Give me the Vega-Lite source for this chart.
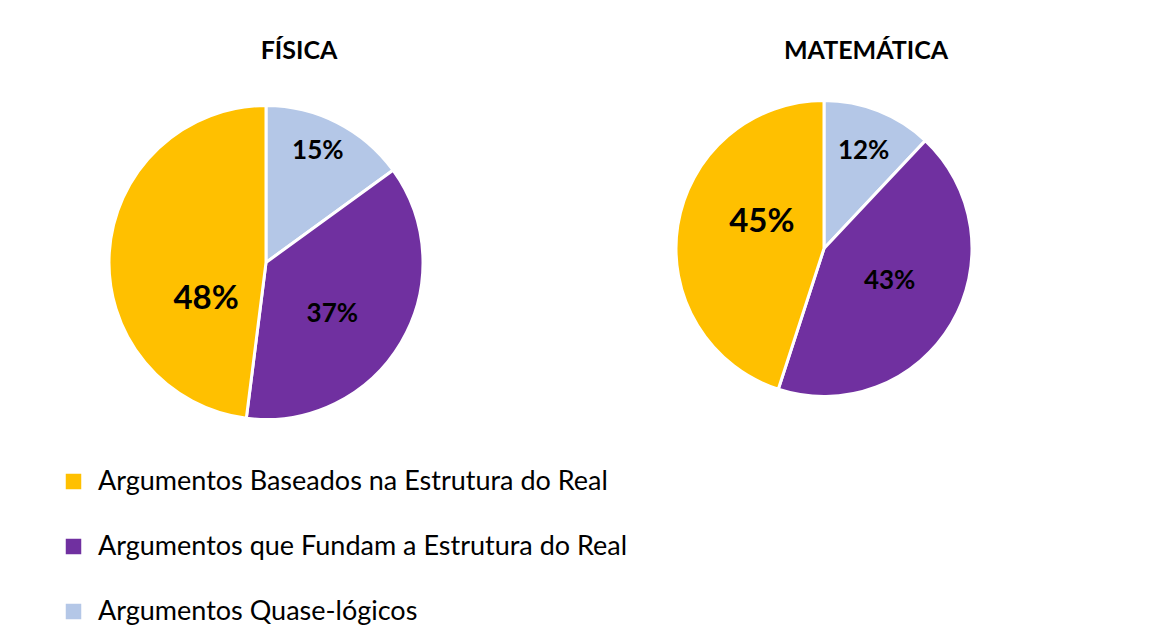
{
  "$schema": "https://vega.github.io/schema/vega-lite/v6.json",
  "padding": {"left": 20, "top": 39, "right": 0, "bottom": 0},
  "background": "white",
  "config": {"view": {"stroke": null}, "font": "Lato"},
  "datasets": {
    "pizza": [
      {"disciplina": "FÍSICA", "categoria": "Argumentos Quase-lógicos", "valor": 0.15, "ordem": 1},
      {"disciplina": "FÍSICA", "categoria": "Argumentos que Fundam a Estrutura do Real", "valor": 0.37, "ordem": 2},
      {"disciplina": "FÍSICA", "categoria": "Argumentos Baseados na Estrutura do Real", "valor": 0.48, "ordem": 3},
      {"disciplina": "MATEMÁTICA", "categoria": "Argumentos Quase-lógicos", "valor": 0.12, "ordem": 1},
      {"disciplina": "MATEMÁTICA", "categoria": "Argumentos que Fundam a Estrutura do Real", "valor": 0.43, "ordem": 2},
      {"disciplina": "MATEMÁTICA", "categoria": "Argumentos Baseados na Estrutura do Real", "valor": 0.45, "ordem": 3}
    ]
  },
  "spacing": 112,
  "hconcat": [
    {
      "width": 492,
      "height": 361,
      "title": {"text": "FÍSICA", "fontSize": 25, "fontWeight": "bold", "anchor": "middle", "dx": 33, "offset": 18, "color": "black"},
      "data": {"name": "pizza"},
      "transform": [{"filter": "datum.disciplina === 'FÍSICA'"}],
      "encoding": {
        "theta": {"field": "valor", "type": "quantitative", "stack": true},
        "order": {"field": "ordem", "type": "quantitative"},
        "color": {
          "field": "categoria", "type": "nominal",
          "scale": {"domain": ["Argumentos Baseados na Estrutura do Real", "Argumentos que Fundam a Estrutura do Real", "Argumentos Quase-lógicos"], "range": ["#FFC000", "#7030A0", "#B4C7E7"]},
          "legend": {"title": null, "orient": "none", "legendX": 40, "legendY": 386, "labelFontSize": 27, "labelColor": "black", "symbolType": "square", "symbolSize": 240, "symbolStrokeWidth": 0, "rowPadding": 37, "labelOffset": 11, "labelLimit": 0}
        }
      },
      "layer": [
        {"mark": {"type": "arc", "outerRadius": 157, "stroke": "white", "strokeWidth": 3}},
        {"mark": {"type": "text", "radius": 123, "dx": -4, "dy": -2, "fontSize": 26, "fontWeight": "bold", "color": "black"},
         "encoding": {"color": {"value": "black"}, "text": {"field": "valor", "type": "quantitative", "format": ".0%", "condition": {"test": "datum.categoria !== 'Argumentos Quase-lógicos'", "value": ""}}}},
        {"mark": {"type": "text", "radius": 84, "dx": -6, "dy": 9, "fontSize": 26, "fontWeight": "bold", "color": "black"},
         "encoding": {"color": {"value": "black"}, "text": {"field": "valor", "type": "quantitative", "format": ".0%", "condition": {"test": "datum.categoria !== 'Argumentos que Fundam a Estrutura do Real'", "value": ""}}}},
        {"mark": {"type": "text", "radius": 60, "dx": 0, "dy": 40, "fontSize": 33, "fontWeight": "bold", "color": "black"},
         "encoding": {"color": {"value": "black"}, "text": {"field": "valor", "type": "quantitative", "format": ".0%", "condition": {"test": "datum.categoria !== 'Argumentos Baseados na Estrutura do Real'", "value": ""}}}}
      ]
    },
    {
      "width": 400,
      "height": 333,
      "title": {"text": "MATEMÁTICA", "fontSize": 25, "fontWeight": "bold", "anchor": "middle", "dx": 42, "offset": 18, "color": "black"},
      "data": {"name": "pizza"},
      "transform": [{"filter": "datum.disciplina === 'MATEMÁTICA'"}],
      "encoding": {
        "theta": {"field": "valor", "type": "quantitative", "stack": true},
        "order": {"field": "ordem", "type": "quantitative"},
        "color": {
          "field": "categoria", "type": "nominal",
          "scale": {"domain": ["Argumentos Baseados na Estrutura do Real", "Argumentos que Fundam a Estrutura do Real", "Argumentos Quase-lógicos"], "range": ["#FFC000", "#7030A0", "#B4C7E7"]},
          "legend": {"title": null, "orient": "none", "legendX": 40, "legendY": 386, "labelFontSize": 27, "labelColor": "black", "symbolType": "square", "symbolSize": 240, "symbolStrokeWidth": 0, "rowPadding": 37, "labelOffset": 11, "labelLimit": 0}
        }
      },
      "layer": [
        {"mark": {"type": "arc", "outerRadius": 148, "stroke": "white", "strokeWidth": 3}},
        {"mark": {"type": "text", "radius": 105, "dx": 1, "dy": 0, "fontSize": 26, "fontWeight": "bold", "color": "black"},
         "encoding": {"color": {"value": "black"}, "text": {"field": "valor", "type": "quantitative", "format": ".0%", "condition": {"test": "datum.categoria !== 'Argumentos Quase-lógicos'", "value": ""}}}},
        {"mark": {"type": "text", "radius": 74, "dx": 2, "dy": -5, "fontSize": 26, "fontWeight": "bold", "color": "black"},
         "encoding": {"color": {"value": "black"}, "text": {"field": "valor", "type": "quantitative", "format": ".0%", "condition": {"test": "datum.categoria !== 'Argumentos que Fundam a Estrutura do Real'", "value": ""}}}},
        {"mark": {"type": "text", "radius": 68, "dx": 5, "dy": -16, "fontSize": 33, "fontWeight": "bold", "color": "black"},
         "encoding": {"color": {"value": "black"}, "text": {"field": "valor", "type": "quantitative", "format": ".0%", "condition": {"test": "datum.categoria !== 'Argumentos Baseados na Estrutura do Real'", "value": ""}}}}
      ]
    }
  ]
}
